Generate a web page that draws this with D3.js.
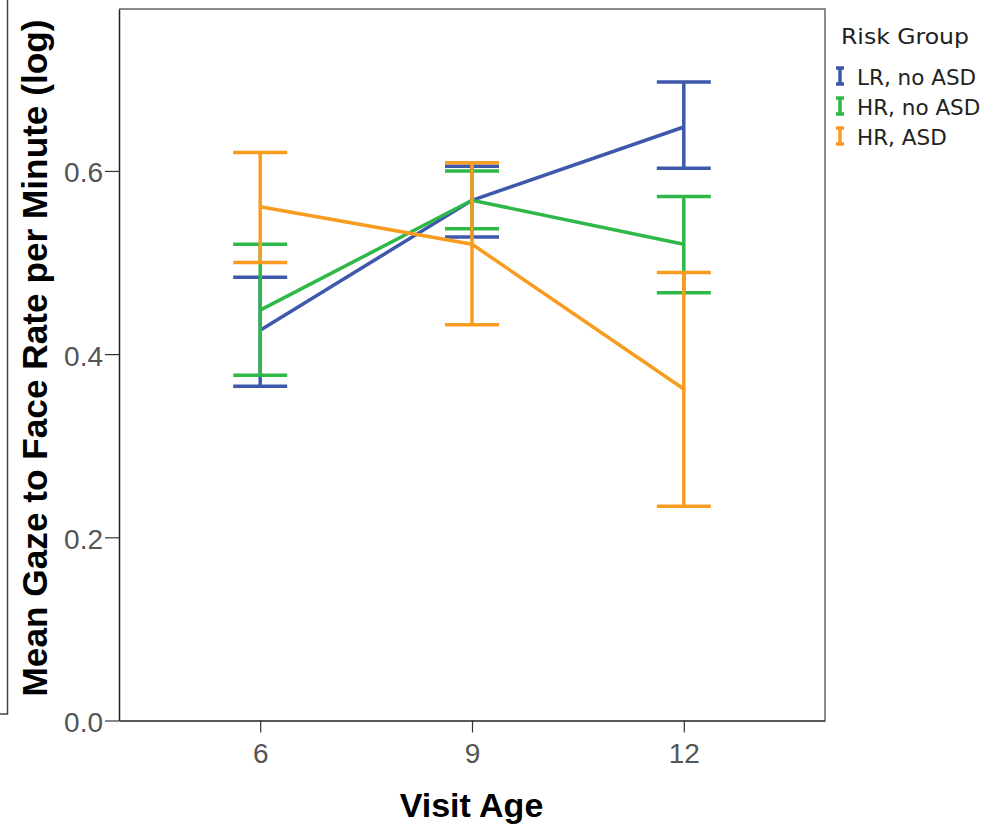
<!DOCTYPE html>
<html>
<head>
<meta charset="utf-8">
<script src="https://cdn.jsdelivr.net/npm/d3@7"></script>
<style>
  body { margin: 0; background: #fff; }
  svg { display: block; font-family: "Liberation Sans", Arial, sans-serif; }
</style>
</head>
<body>
<svg width="1000" height="826"></svg>
<script>
// visit ages (months)
var ages = [6, 9, 12];
var groups = ["LR, no ASD", "HR, no ASD", "HR, ASD"];
var colors = ["#3e58ac", "#2eb848", "#f89c20"];

// mean and error bar ends per group, per age
var means = [
  [0.426, 0.568, 0.648],
  [0.448, 0.568, 0.520],
  [0.561, 0.520, 0.362]
];
var upper = [
  [0.484, 0.605, 0.697],
  [0.520, 0.600, 0.572],
  [0.620, 0.609, 0.489]
];
var lower = [
  [0.365, 0.528, 0.603],
  [0.377, 0.537, 0.467],
  [0.500, 0.432, 0.234]
];
var yTicks = [0.0, 0.2, 0.4, 0.6];

var svg = d3.select("svg");

var x = d3.scaleLinear().domain([4, 14]).range([119, 825]);
var y = d3.scaleLinear().domain([0, 0.7768]).range([720.5, 9]);

// cropped outer frame on the left
svg.append("path")
  .attr("d", "M7.5,0 V714 H0")
  .attr("fill", "none")
  .attr("stroke", "#444")
  .attr("stroke-width", 1.5);

// plot frame (top & right)
svg.append("path")
  .attr("d", "M119,9 H825 V720.5")
  .attr("fill", "none")
  .attr("stroke", "#666")
  .attr("stroke-width", 1.5);

// y axis
var yAxis = svg.append("g")
  .attr("transform", "translate(119,0)")
  .call(d3.axisLeft(y).tickValues(yTicks).tickFormat(d3.format(".1f")).tickSize(14).tickSizeOuter(0));
yAxis.select(".domain").attr("stroke", "#222").attr("stroke-width", 1.5);
yAxis.selectAll(".tick line").attr("stroke", "#333").attr("stroke-width", 1.2);
yAxis.selectAll(".tick text")
  .attr("font-size", 28).attr("fill", "#555").attr("x", -16).attr("dy", 11)
  .attr("font-family", "Liberation Sans, Arial, sans-serif");

// x axis
var xAxis = svg.append("g")
  .attr("transform", "translate(0,720.5)")
  .call(d3.axisBottom(x).tickValues(ages).tickSize(12).tickSizeOuter(0));
xAxis.select(".domain").attr("stroke", "#222").attr("stroke-width", 1.5);
xAxis.selectAll(".tick line").attr("stroke", "#333").attr("stroke-width", 1.2);
xAxis.selectAll(".tick text")
  .attr("font-size", 28).attr("fill", "#555").attr("y", 42.5).attr("dy", 0)
  .attr("font-family", "Liberation Sans, Arial, sans-serif");

// axis titles
svg.append("text")
  .attr("transform", "translate(47,358) rotate(-90)")
  .attr("text-anchor", "middle")
  .attr("font-size", 35).attr("font-weight", "bold").attr("fill", "#000")
  .attr("textLength", 677).attr("lengthAdjust", "spacingAndGlyphs")
  .text("Mean Gaze to Face Rate per Minute (log)");

svg.append("text")
  .attr("x", 471.5).attr("y", 817)
  .attr("text-anchor", "middle")
  .attr("font-size", 34).attr("font-weight", "bold").attr("fill", "#000")
  .text("Visit Age");

var capW = 27;
var line = d3.line().x(function(d) { return x(d[0]); }).y(function(d) { return y(d[1]); });

// error bars and mean lines, in group order
groups.forEach(function(g, i) {
  var eb = svg.append("g").attr("stroke", colors[i]).attr("stroke-width", 3.5).attr("fill", "none");
  ages.forEach(function(a, j) {
    var cx = x(a);
    eb.append("line").attr("x1", cx).attr("x2", cx).attr("y1", y(upper[i][j])).attr("y2", y(lower[i][j]));
    eb.append("line").attr("x1", cx - capW).attr("x2", cx + capW).attr("y1", y(upper[i][j])).attr("y2", y(upper[i][j]));
    eb.append("line").attr("x1", cx - capW).attr("x2", cx + capW).attr("y1", y(lower[i][j])).attr("y2", y(lower[i][j]));
  });
  svg.append("path")
    .datum(ages.map(function(a, j) { return [a, means[i][j]]; }))
    .attr("d", line)
    .attr("fill", "none")
    .attr("stroke", colors[i])
    .attr("stroke-width", 3.5);
});

// legend
svg.append("text")
  .attr("x", 841).attr("y", 44)
  .attr("font-family", "DejaVu Sans, sans-serif")
  .attr("font-size", 21.5).attr("fill", "#222")
  .attr("textLength", 128).attr("lengthAdjust", "spacingAndGlyphs")
  .text("Risk Group");

var leg = svg.append("g");
groups.forEach(function(g, i) {
  var base = 84 + i * 30;
  var ic = leg.append("g").attr("stroke", colors[i]).attr("stroke-width", 3.5);
  ic.append("line").attr("x1", 840).attr("x2", 840).attr("y1", base - 16).attr("y2", base);
  ic.append("line").attr("x1", 836).attr("x2", 844).attr("y1", base - 16).attr("y2", base - 16);
  ic.append("line").attr("x1", 836).attr("x2", 844).attr("y1", base).attr("y2", base);
  leg.append("text")
    .attr("x", 857).attr("y", base + 1)
    .attr("font-family", "DejaVu Sans, sans-serif")
    .attr("font-size", 21.5).attr("fill", "#222")
    .text(g);
});
</script>
</body>
</html>
